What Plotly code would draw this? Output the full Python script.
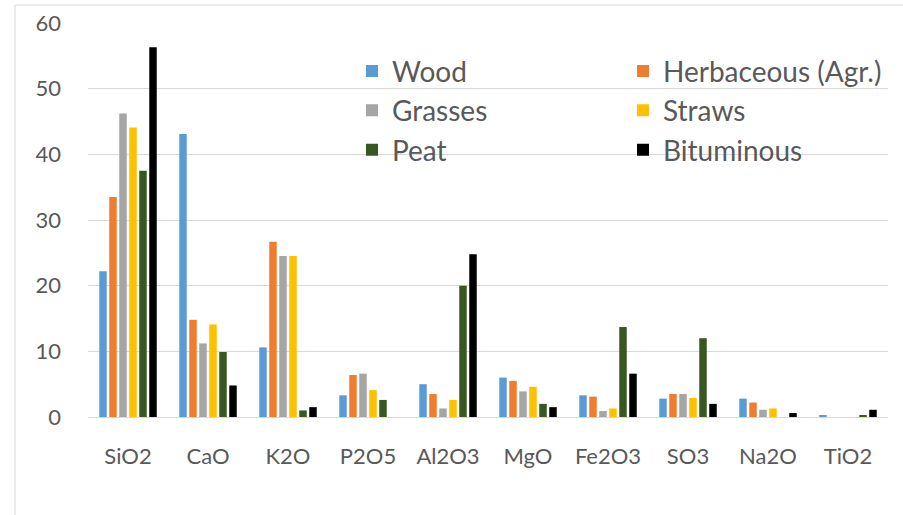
import plotly.graph_objects as go

categories = ["SiO2", "CaO", "K2O", "P2O5", "Al2O3", "MgO", "Fe2O3", "SO3", "Na2O", "TiO2"]

wood        = [22.2, 43.1, 10.6, 3.3, 5.0, 6.0, 3.3, 2.8, 2.8, 0.2]
herbaceous  = [33.5, 14.8, 26.7, 6.4, 3.5, 5.5, 3.1, 3.5, 2.2, 0.0]
grasses     = [46.2, 11.2, 24.5, 6.6, 1.3, 3.9, 0.9, 3.5, 1.1, 0.0]
straws      = [44.1, 14.1, 24.5, 4.1, 2.6, 4.6, 1.3, 2.9, 1.3, 0.0]
peat        = [37.5, 9.9, 1.0, 2.6, 20.0, 2.0, 13.7, 12.0, 0.0, 0.2]
bituminous  = [56.3, 4.8, 1.5, 0.0, 24.8, 1.5, 6.6, 2.0, 0.6, 1.1]

series_names = ["Wood", "Herbaceous (Agr.)", "Grasses", "Straws", "Peat", "Bituminous"]
series_values = [wood, herbaceous, grasses, straws, peat, bituminous]
colors = ["#5B9BD5", "#ED7D31", "#A5A5A5", "#FFC000", "#385723", "#000000"]

y_ticks = [0, 10, 20, 30, 40, 50, 60]

fig = go.Figure()
for name, vals, col in zip(series_names, series_values, colors):
    fig.add_trace(go.Bar(x=categories, y=vals, name=name, marker=dict(color=col, line=dict(width=0))))

font_family = "Lato"
text_color = "#595959"

fig.update_layout(
    width=903, height=515,
    margin=dict(l=88, r=15, t=23, b=98, autoexpand=False),
    paper_bgcolor="white", plot_bgcolor="white",
    barmode="group", bargap=0.25, bargroupgap=0.25,
    font=dict(family=font_family, color=text_color, size=21),
    legend=dict(
        orientation="h", x=0.33, xanchor="left", y=0.941, yanchor="top",
        entrywidth=226, entrywidthmode="pixels",
        font=dict(family=font_family, size=28, color=text_color),
        bgcolor="rgba(0,0,0,0)", traceorder="normal",
    ),
    xaxis=dict(
        showgrid=False, showline=False, zeroline=False,
        tickfont=dict(size=22, color=text_color),
        ticks="", ticklabelstandoff=24, automargin=False,
    ),
    yaxis=dict(
        range=[0, 60], tickvals=y_ticks, ticktext=[str(v) for v in y_ticks],
        showgrid=True, gridcolor="#D9D9D9", gridwidth=1,
        zeroline=True, zerolinecolor="#D9D9D9", zerolinewidth=1,
        showline=False, ticks="", ticklabelstandoff=26, automargin=False,
        tickfont=dict(size=22, color=text_color),
    ),
    shapes=[dict(
        type="rect", xref="paper", yref="paper",
        x0=(15 - 88) / 800, x1=(920 - 88) / 800,
        y0=(417 - 530) / 394, y1=(417 - 5) / 394,
        line=dict(color="#D9D9D9", width=1), fillcolor="rgba(0,0,0,0)", layer="below",
    )],
)

fig.write_html(
    "out.html",
    config={"displayModeBar": False},
    post_script="document.body.style.margin='0';document.body.style.padding='0';",
)
